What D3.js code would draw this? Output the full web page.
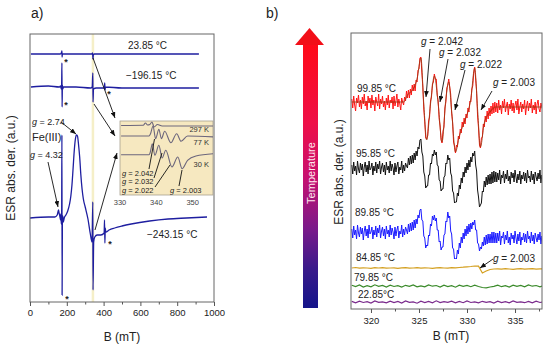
<!DOCTYPE html>
<html><head><meta charset="utf-8">
<script src="https://cdn.jsdelivr.net/npm/d3@7"></script>
<style>
html,body{margin:0;padding:0;background:#fff;}
svg{display:block;font-family:"Liberation Sans",Arial,sans-serif;}
</style></head><body>
<svg id="chart" width="550" height="348"></svg>
<script>
// ================= DATA =================
// ---- panel a (B in mT, signal in a.u.) ----
const ticksA = [0, 200, 400, 600, 800, 1000];
const minorTicksA = [100, 300, 500, 700, 900];
const tempLabelsA = ["23.85 °C", "\u2212196.15 °C", "\u2212243.15 °C"];
const trace2385 = [[5,248],[165,248],[172,250],[173.5,251],[174.5,245],[176,248],[336,248],[340,249],[341.5,245],[342.5,243],[344,247],[350,248],[918,248]];
const trace19615 = [[5,215],[100,216],[160,215],[166,216],[170,213],[172,217],[173.5,239],[174.5,195],[176,217],[178,213],[182,215],[250,215],[330,214],[338,215],[341.5,229],[342.5,200],[345,213],[360,214],[404,214],[406,219],[408,212],[410,215],[500,214],[700,214],[918,214]];
const trace24315 = [[0,84],[100,85],[135,85],[148,87],[152,90],[155,92],[158,89],[162,86],[166,82],[168,88],[170,78],[172,86],[173.5,167],[174.5,7],[176,80],[178,86],[181,80],[186,84],[195,87],[205,91],[215,98],[222,106],[228,117],[234,133],[240,150],[246,162],[252,167],[258,166],[264,157],[270,145],[276,128],[283,113],[290,103],[300,95],[315,83],[328,68],[337,60],[341.5,100],[342.5,12],[346,60],[352,65],[365,67],[385,67],[403,69],[405,82],[407,59],[409,74],[412,70],[430,72],[460,74],[500,76],[550,78],[650,81],[750,83],[850,84],[962,85]];
// inset (B in mT)
const insetTicks = [330, 340, 350];
const insetLabels = ["297 K", "77 K", "30 K"];
const inset297 = [[330.3,69.5],[336.4,69.7],[337,72],[337.6,70],[338.2,70.5],[338.8,73],[339.4,68],[340.3,70.5],[341.6,69],[356,69]];
const inset77 = [[330.3,59],[338,59],[338.4,61.3],[339.1,69],[339.8,56.3],[340.7,65.7],[341.4,56.3],[342.3,63.7],[344.0,52.3],[345.6,61.3],[346.8,53.7],[348.6,59],[356,58]];
const inset30 = [[330.3,40.3],[338,40.3],[338.3,42.3],[338.9,51.3],[339.6,39.7],[340.7,49.7],[341.6,37],[342.6,44.7],[344.3,28],[345.9,38],[347.1,26.3],[348.6,34.7],[350.9,39],[356,41.3]];
const insetG = ["2.042", "2.032", "2.022", "2.003"];

// ---- panel b (B from 318 mT; step 0.1 mT for the strong traces, 0.4 mT for the flat ones) ----
const ticksB = [320, 325, 330, 335];
const minorTicksB = [322.5, 327.5, 332.5, 337.5];
const tempLabelsB = ["99.85 °C", "95.85 °C", "89.85 °C", "84.85 °C", "79.85 °C", "22.85°C"];
const gValuesB = ["2.042", "2.032", "2.022", "2.003"];
const fieldStart = 318, fineStep = 0.1, coarseStep = 0.4;
const red9985 = [
  210,201,213,204,198,211,206,214,202,209,200,212,205,215,203,208,199,213,206,211,
  201,214,204,209,198,212,207,203,215,200,210,205,213,202,208,199,211,204,214,201,
  209,206,212,200,213,203,208,215,202,210,205,199,211,207,204,
  212,208,218,211,219,211,220,214,224,218,225,218,229,227,239,240,251,252,236,222,
  200,187,171,170,173,188,192,208,212,225,227,235,230,230,214,208,190,183,169,166,
  178,182,201,207,221,224,230,222,215,196,187,167,163,156,164,162,173,170,180,176,
  187,182,191,185,195,191,201,197,208,207,220,223,236,242,230,218,193,181,164,161,
  171,172,185,182,193,187,198,190,201,193,203,195,206,196,207,197,
  206,196,209,199,204,195,208,201,210,197,203,207,194,205,200,209,198,206,196,204,
  208,199,210,195,202,207,197,205,200,209,194,203,208,198,206,201,210,196,204,199,
  207,195,205,209,200,197,206,202,198,208];
const red9985Smooth = [[318,207],[323.4,207],[323.8,214],[324.4,220],[324.8,230],[325.2,251],[325.5,205],[325.8,169],[326.2,205],[326.6,233],[327.0,205],[327.4,167],[327.8,210],[328.1,227],[328.4,198],[328.8,157],[329.2,173],[329.8,189],[330.4,210],[330.8,241],[331.1,200],[331.4,162],[331.8,186],[332.4,197],[333,202],[338,202]];
const black9585 = [
  144,135,147,138,143,134,148,140,136,146,139,145,133,142,147,137,144,135,148,139,
  141,146,134,143,138,147,136,145,140,148,135,142,146,137,144,134,147,139,143,136,
  148,138,145,141,134,146,137,143,147,135,142,139,148,136,144,138,146,143,
  141,151,144,153,145,154,146,156,149,158,153,162,160,169,170,157,153,137,133,121,
  123,123,134,134,146,145,155,153,159,154,157,144,143,129,128,118,120,120,132,133,
  146,145,154,149,151,136,133,118,116,106,107,107,116,113,124,120,131,126,137,132,
  142,136,146,139,149,142,152,147,156,153,158,144,138,119,112,102,104,106,118,117,
  128,122,132,124,134,125,135,125,137,126,138,127,137,
  127,136,129,139,125,134,131,138,126,135,130,139,128,133,125,137,131,136,127,139,
  132,126,135,129,138,125,134,130,137,128,136,126,139,131,133,127,138,129,135,125,
  137,132,128,136,130,139,126,134,129,137];
const blue8985 = [
  80,71,83,74,79,70,84,76,72,82,75,81,69,78,83,73,80,71,84,75,
  77,82,70,79,74,83,72,81,76,84,71,78,82,73,80,70,83,75,79,72,
  84,74,81,77,70,82,73,79,83,71,78,75,84,72,80,74,82,79,
  75,85,77,86,78,87,79,89,81,90,85,94,91,99,100,89,88,73,71,61,
  64,63,74,73,85,83,93,89,94,88,91,79,79,67,68,59,62,62,74,75,
  88,87,97,91,93,78,75,61,60,50,51,50,59,55,66,61,72,66,76,70,
  80,73,83,75,85,77,86,80,87,84,89,79,79,66,65,58,62,60,67,63,
  72,64,74,65,75,66,75,66,77,66,77,66,76,
  66,76,68,78,64,73,71,77,65,74,69,78,66,72,64,76,70,74,66,78,
  71,65,75,68,77,64,72,69,76,67,75,66,78,70,73,66,77,68,74,65,
  76,71,67,75,69,77,65,73,68,76];
const gold8485 = [41,41.5,40.8,41.2,41,40.6,41.3,41,41.4,40.8,41,41.2,40.7,41.1,41.4,40.9,41,41.3,40.8,41.2,41,40.7,41.2,41.4,41,40.8,41.3,41.1,
  41.5,41.8,42.2,42.5,43,42.8,36,38,39.5,40,
  40.2,39.8,40.3,40,39.7,40.2,40.4,39.9,40.1,40.3,39.8,40.2,40];
const green7985 = [23.8,22.4,24,22,23.4,22.2,24.2,22.7,23.6,22,23.9,22.5,23.3,21.9,23.7,22.6,24,22.2,23.2,22.1,24.1,22.8,23.5,22,23.8,22.4,23.4,21.8,23.9,22.7,23.6,22.3,23.8,22.5,21.5,21.2,22,22.6,23.8,22.3,23.3,22,23.9,22.6,23.6,22.2,24,22.8,23.5,22.1,23.7];
const purple2285 = [7.6,6.2,7.9,6.5,7.3,5.9,8,6.6,7.2,6.1,7.8,6.4,7.5,6,8.1,6.7,7.1,5.8,7.9,6.5,7.6,6.2,8.2,6.4,7.4,6.6,7.9,6.1,7.5,6.3,8,6.5,7.2,6.1,7.7,6.6,7.4,6,7.8,6.4,7.3,6.2,8,6.7,7.1,6.3,7.6,6.1,7.9,6.5,7.2];

// ================= DRAWING =================
const svg = d3.select("#chart");
const FONT = '"Liberation Sans", Arial, sans-serif';
const TXT = "#222";
const defs = svg.append("defs");
defs.append("marker").attr("id","ah").attr("viewBox","0 0 10 8").attr("refX",10).attr("refY",4)
  .attr("markerWidth",6).attr("markerHeight",4.8).attr("markerUnits","userSpaceOnUse").attr("orient","auto")
  .append("path").attr("d","M0,0L10,4L0,8z").attr("fill","#111");

function text(g, x, y, str, size, opts = {}) {
  const t = g.append("text").attr("x", x).attr("y", y).attr("font-size", size)
    .attr("fill", opts.fill || TXT).attr("font-family", FONT).text(str);
  if (opts.anchor) t.attr("text-anchor", opts.anchor);
  if (opts.weight) t.attr("font-weight", opts.weight);
  return t;
}
function gLabel(g, x, y, val, size) {
  const t = g.append("text").attr("x", x).attr("y", y).attr("font-size", size).attr("fill", TXT).attr("font-family", FONT);
  t.append("tspan").attr("font-style", "italic").text("g");
  t.append("tspan").text(" = " + val);
  return t;
}
function arrow(g, x1, y1, x2, y2, head = true) {
  const l = g.append("line").attr("x1", x1).attr("y1", y1).attr("x2", x2).attr("y2", y2)
    .attr("stroke", "#111").attr("stroke-width", 0.9);
  if (head) l.attr("marker-end", "url(#ah)");
}

// ---------- Panel a ----------
const A = { l: 30, r: 214, t: 34, b: 302 };
const xA = d3.scaleLinear().domain([0, 1000]).range([A.l, A.r]);
const yA = d3.scaleLinear().domain([0, 268]).range([A.b, A.t]);
const gA = svg.append("g");

gA.append("line").attr("x1", xA(342)).attr("x2", xA(342)).attr("y1", A.t).attr("y2", A.b)
  .attr("stroke", "#f5efc8").attr("stroke-width", 2.5);

const lineA = d3.line().x(d => xA(d[0])).y(d => yA(d[1])).curve(d3.curveMonotoneX);
[trace2385, trace19615, trace24315].forEach(tr => {
  gA.append("path").attr("d", lineA(tr)).attr("fill", "none").attr("stroke", "#1e1ea0").attr("stroke-width", 1.3);
});

gA.append("rect").attr("x", A.l).attr("y", A.t).attr("width", A.r - A.l).attr("height", A.b - A.t)
  .attr("fill", "none").attr("stroke", "#666").attr("stroke-width", 1);

const axA = gA.append("g").attr("transform", `translate(0,${A.b})`)
  .call(d3.axisBottom(xA).tickValues(ticksA).tickSize(4).tickPadding(3).tickFormat(d3.format("d")));
const axAm = gA.append("g").attr("transform", `translate(0,${A.b})`)
  .call(d3.axisBottom(xA).tickValues(minorTicksA).tickSize(2.5).tickFormat(""));
[axA, axAm].forEach(ax => { ax.select(".domain").remove(); ax.selectAll("line").attr("stroke", "#555"); });
axA.selectAll("text").attr("font-size", 9.5).attr("fill", TXT).attr("font-family", FONT);

text(gA, 122, 341, "B (mT)", 12, { anchor: "middle" });
gA.append("text").attr("transform", "translate(15,168) rotate(-90)").attr("text-anchor", "middle")
  .attr("font-size", 12).attr("fill", TXT).attr("font-family", FONT).text("ESR abs. der. (a.u.)");
text(gA, 31, 18, "a)", 14);

text(gA, 128, 49, tempLabelsA[0], 10);
text(gA, 126, 79, tempLabelsA[1], 10);
text(gA, 147, 238, tempLabelsA[2], 10);
gLabel(gA, 32, 125, "2.74", 9);
text(gA, 32, 141, "Fe(III)", 11);
gLabel(gA, 30, 158, "4.32", 9);

[[66, 65], [66, 108], [109, 97], [67, 302], [110, 247]].forEach(p => text(gA, p[0], p[1], "*", 9, { anchor: "middle", weight: "bold" }));

// inset
const I = { l: 120, r: 213, t: 121, b: 195 };
const xI = d3.scaleLinear().domain([330, 355.6]).range([I.l, I.r]);
const yI = d3.scaleLinear().domain([0, 74]).range([I.b, I.t]);
gA.append("rect").attr("x", I.l).attr("y", I.t).attr("width", I.r - I.l).attr("height", I.b - I.t)
  .attr("fill", "#f6e8c0").attr("stroke", "#a8a090").attr("stroke-width", 0.8);
defs.append("clipPath").attr("id", "clipI").append("rect").attr("x", I.l).attr("y", I.t).attr("width", I.r - I.l).attr("height", I.b - I.t);
const gI = gA.append("g").attr("clip-path", "url(#clipI)");
const lineI = d3.line().x(d => xI(d[0])).y(d => yI(d[1])).curve(d3.curveMonotoneX);
[inset297, inset77, inset30].forEach(tr => {
  gI.append("path").attr("d", lineI(tr)).attr("fill", "none").attr("stroke", "#6c667c").attr("stroke-width", 1.1);
});
insetTicks.forEach(t => text(gA, xI(t), 205, String(t), 7.5, { anchor: "middle", fill: "#444" }));
text(gA, 209, 132, insetLabels[0], 7.5, { anchor: "end", fill: "#333" });
text(gA, 209, 145, insetLabels[1], 7.5, { anchor: "end", fill: "#333" });
text(gA, 209, 167, insetLabels[2], 7.5, { anchor: "end", fill: "#333" });
gLabel(gA, 122, 175.6, insetG[0], 7.5);
gLabel(gA, 122, 184.3, insetG[1], 7.5);
gLabel(gA, 122, 193, insetG[2], 7.5);
gLabel(gA, 170, 193, insetG[3], 7.5);
arrow(gA, 149, 169, 154.5, 139, false);
arrow(gA, 154, 178, 162, 153, false);
arrow(gA, 155, 187, 170, 165, false);
arrow(gA, 179, 186, 182, 170, false);

arrow(gA, 93, 58, 115, 118);
arrow(gA, 94, 104, 115, 136);
arrow(gA, 95, 230, 117, 153);
arrow(gA, 61, 122, 76, 134);
arrow(gA, 48, 162, 58, 207);

// ---------- Panel b ----------
const Bp = { l: 351, r: 542, t: 33, b: 309 };
const xB = d3.scaleLinear().domain([317.92, 337.81]).range([Bp.l, Bp.r]);
const yB = d3.scaleLinear().domain([0, 276]).range([Bp.b, Bp.t]);
const gB = svg.append("g");
defs.append("clipPath").attr("id", "clipB").append("rect").attr("x", Bp.l).attr("y", Bp.t).attr("width", Bp.r - Bp.l).attr("height", Bp.b - Bp.t);
const gT = gB.append("g").attr("clip-path", "url(#clipB)");

const lineFine = d3.line().x((d, i) => xB(fieldStart + i * fineStep)).y(d => yB(d));
const lineCoarse = d3.line().x((d, i) => xB(fieldStart + i * coarseStep)).y(d => yB(d));
const lineKey = d3.line().x(d => xB(d[0])).y(d => yB(d[1])).curve(d3.curveMonotoneX);

gT.append("path").attr("d", lineFine(red9985)).attr("fill", "none").attr("stroke", "#ff1414").attr("stroke-width", 1);
gT.append("path").attr("d", lineKey(red9985Smooth)).attr("fill", "none").attr("stroke", "#983a14").attr("stroke-width", 1).attr("opacity", 0.85);
gT.append("path").attr("d", lineFine(black9585)).attr("fill", "none").attr("stroke", "#111").attr("stroke-width", 1);
gT.append("path").attr("d", lineFine(blue8985)).attr("fill", "none").attr("stroke", "#1a1aff").attr("stroke-width", 1);
gT.append("path").attr("d", lineCoarse(gold8485)).attr("fill", "none").attr("stroke", "#d4a021").attr("stroke-width", 1.2);
gT.append("path").attr("d", lineCoarse(green7985)).attr("fill", "none").attr("stroke", "#3a8a2a").attr("stroke-width", 1.2);
gT.append("path").attr("d", lineCoarse(purple2285)).attr("fill", "none").attr("stroke", "#7a2a8c").attr("stroke-width", 1.2);

gB.append("rect").attr("x", Bp.l).attr("y", Bp.t).attr("width", Bp.r - Bp.l).attr("height", Bp.b - Bp.t)
  .attr("fill", "none").attr("stroke", "#666").attr("stroke-width", 1);
const axB = gB.append("g").attr("transform", `translate(0,${Bp.b})`)
  .call(d3.axisBottom(xB).tickValues(ticksB).tickSize(4).tickPadding(4.5).tickFormat(d3.format("d")));
const axBm = gB.append("g").attr("transform", `translate(0,${Bp.b})`)
  .call(d3.axisBottom(xB).tickValues(minorTicksB).tickSize(2.5).tickFormat(""));
[axB, axBm].forEach(ax => { ax.select(".domain").remove(); ax.selectAll("line").attr("stroke", "#555"); });
axB.selectAll("text").attr("font-size", 9.5).attr("fill", TXT).attr("font-family", FONT);

text(gB, 451, 340, "B (mT)", 12, { anchor: "middle" });
gB.append("text").attr("transform", "translate(343,172) rotate(-90)").attr("text-anchor", "middle")
  .attr("font-size", 12).attr("fill", TXT).attr("font-family", FONT).text("ESR abs. der. (a.u.)");
text(gB, 266, 18, "b)", 14);

const tempPos = [[357, 92], [356, 157], [355, 216], [356, 261], [354, 281], [358, 298]];
tempLabelsB.forEach((s, i) => text(gB, tempPos[i][0], tempPos[i][1], s, 10));
gLabel(gB, 421, 44.5, gValuesB[0], 10);
gLabel(gB, 439, 56, gValuesB[1], 10);
gLabel(gB, 460, 67.5, gValuesB[2], 10);
gLabel(gB, 493, 86, gValuesB[3], 10);
gLabel(gB, 493, 262, gValuesB[3], 10);
arrow(gB, 430, 49, 426, 97);
arrow(gB, 448, 59, 440, 102);
arrow(gB, 465, 70, 455, 110);
arrow(gB, 492, 91, 481, 110);
arrow(gB, 493, 259, 480, 268);

// temperature arrow
const grad = defs.append("linearGradient").attr("id", "tgrad").attr("x1", 0).attr("y1", 0).attr("x2", 0).attr("y2", 1);
[[0, "#ff0a18"], [0.3, "#ee1048"], [0.5, "#c8106e"], [0.7, "#7a1a8a"], [0.85, "#3a1a8a"], [1, "#14148a"]]
  .forEach(s => grad.append("stop").attr("offset", s[0]).attr("stop-color", s[1]));
gB.append("rect").attr("x", 303).attr("y", 44).attr("width", 15).attr("height", 264).attr("fill", "url(#tgrad)");
gB.append("path").attr("d", "M295,45L309.5,28L324,45Z").attr("fill", "#f20f18");
gB.append("text").attr("transform", "translate(314.5,173) rotate(-90)").attr("text-anchor", "middle")
  .attr("font-size", 11).attr("fill", "#ffe8f0").attr("font-family", FONT).text("Temperature");
</script>
</body></html>
